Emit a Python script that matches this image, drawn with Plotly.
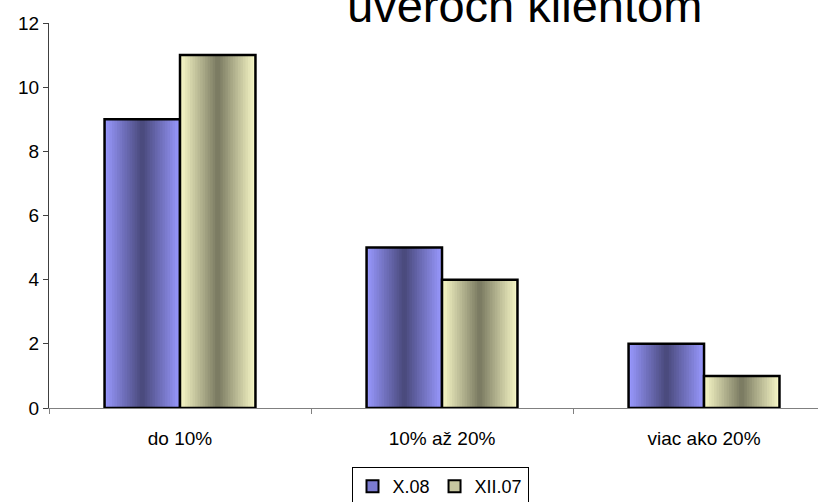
import plotly.graph_objects as go

# Data
categories = ["do 10%", "10% až 20%", "viac ako 20%"]
series_names = ["X.08", "XII.07"]
x08_values = [9, 5, 2]
xii07_values = [11, 4, 1]
y_ticks = [0, 2, 4, 6, 8, 10, 12]

# Styling: each bar is shaded light at the edges and dark in the middle
BAR_W = 0.288
N_SLICES = 30
styles = {
    "X.08": {"light": (153, 153, 255), "dark": (72, 72, 122), "key": "#7b7bd0", "offset": -BAR_W},
    "XII.07": {"light": (250, 250, 200), "dark": (120, 120, 96), "key": "#c8c8a0", "offset": 0.0},
}
values_by_name = {"X.08": x08_values, "XII.07": xii07_values}


def mix(a, b, f):
    return "rgb({},{},{})".format(*[round(a[i] + (b[i] - a[i]) * f) for i in range(3)])


fig = go.Figure()
dw = BAR_W / N_SLICES
for name in series_names:
    st = styles[name]
    vals = values_by_name[name]
    for k in range(N_SLICES):
        t = (k + 0.5) / N_SLICES
        f = 1 - abs(2 * t - 1)
        w = dw * (2 if k < N_SLICES - 1 else 1)
        fig.add_trace(go.Bar(
            x=categories, y=vals,
            offset=st["offset"] + k * dw, width=w,
            marker=dict(color=mix(st["light"], st["dark"], f), line=dict(width=0)),
            showlegend=False, hoverinfo="skip",
        ))
    # outline of each bar
    fig.add_trace(go.Bar(
        x=categories, y=vals,
        offset=st["offset"], width=BAR_W,
        marker=dict(color="rgba(0,0,0,0)", line=dict(color="black", width=2.5)),
        showlegend=False, name=name,
    ))

# legend keys
for name in series_names:
    fig.add_trace(go.Scatter(
        x=[None], y=[None], mode="markers", name=name,
        marker=dict(symbol="square", size=9, color=styles[name]["key"],
                    line=dict(color="black", width=2)),
    ))

fig.update_layout(
    width=818, height=502,
    margin=dict(l=49, r=0, t=23, b=94, autoexpand=False),
    paper_bgcolor="white", plot_bgcolor="white",
    barmode="overlay",
    font=dict(family="Liberation Sans, Arial, sans-serif", color="black"),
    showlegend=True,
    legend=dict(
        orientation="h", x=(440 - 49) / 769, xanchor="center", y=-59 / 385, yanchor="top",
        bordercolor="black", borderwidth=1, font=dict(size=18),
        itemsizing="constant", itemwidth=30, tracegroupgap=0,
    ),
    xaxis=dict(
        type="category", range=[-0.5, 2.435],
        tickson="boundaries", ticks="outside", ticklen=5, tickcolor="#808080",
        showline=True, linecolor="#808080", linewidth=1,
        showgrid=False, tickfont=dict(size=19), ticklabelstandoff=13,
        fixedrange=True, automargin=False,
    ),
    yaxis=dict(
        range=[0, 12], tickvals=y_ticks, ticks="outside", ticklen=5,
        tickcolor="#404040", showline=True, linecolor="#404040", linewidth=1,
        showgrid=False, zeroline=False, tickfont=dict(size=19), fixedrange=True,
        automargin=False,
    ),
    annotations=[dict(
        text="úveroch klientom", xref="paper", yref="paper",
        x=(524 - 49) / 769, y=1 + (23 - 34) / 385, xanchor="center", yanchor="bottom",
        showarrow=False, font=dict(size=47, color="black"),
    )],
)

fig.write_html("out.html")
